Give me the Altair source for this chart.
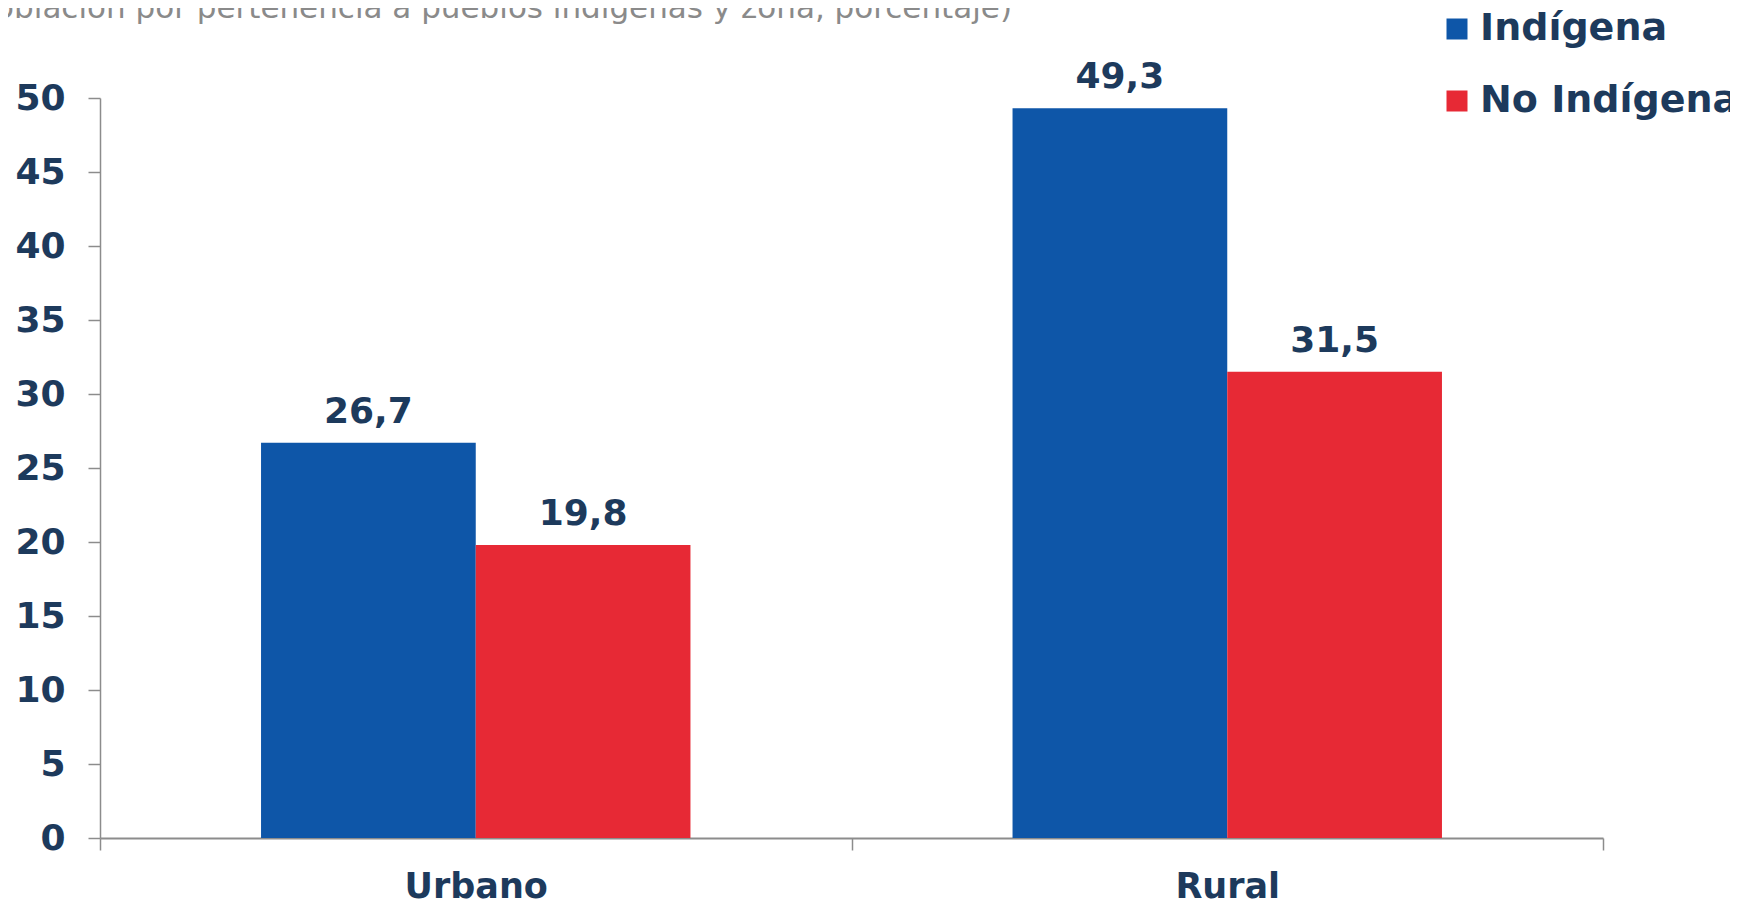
import altair as alt
import pandas as pd

# ---- data ----
zonas = ["Urbano", "Rural"]
grupos = ["Indígena", "No Indígena"]
indigena = [26.7, 49.3]
no_indigena = [19.8, 31.5]
y_ticks = [0, 5, 10, 15, 20, 25, 30, 35, 40, 45, 50]
colores = ["#0E56A8", "#E72935"]
titulo = "(Población por pertenencia a pueblos indígenas y zona, porcentaje)"

rows = []
for z, a, b in zip(zonas, indigena, no_indigena):
    rows.append({"zona": z, "grupo": grupos[0], "valor": a})
    rows.append({"zona": z, "grupo": grupos[1], "valor": b})
df = pd.DataFrame(rows)
title_df = pd.DataFrame({"t": [titulo]})

NAVY = "#1D3A5C"
GRAY = "#8C8C8C"
FONT = "DejaVu Sans"

base = alt.Chart(df).encode(
    x=alt.X(
        "zona:N",
        sort=zonas,
        scale=alt.Scale(paddingInner=0, paddingOuter=0),
        axis=alt.Axis(
            title=None, labelAngle=0, tickBand="extent",
            domainColor=GRAY, domainWidth=2, tickColor=GRAY, tickWidth=1.5,
            tickSize=12, labelFont=FONT, labelFontSize=35, labelFontWeight="bold",
            labelColor=NAVY, labelPadding=19,
        ),
    ),
    xOffset=alt.XOffset("grupo:N", sort=grupos,
                        scale=alt.Scale(paddingInner=0, paddingOuter=0.75)),
    y=alt.Y(
        "valor:Q",
        scale=alt.Scale(domain=[0, 50], nice=False),
        axis=alt.Axis(
            title=None, values=y_ticks, grid=False,
            domainColor=GRAY, domainWidth=1.5, tickColor=GRAY, tickWidth=1.5,
            tickSize=12, labelFont=FONT, labelFontSize=36, labelFontWeight="bold",
            labelColor=NAVY, labelPadding=23,
        ),
    ),
)

bars = base.mark_bar().encode(
    color=alt.Color(
        "grupo:N",
        sort=grupos,
        scale=alt.Scale(domain=grupos, range=colores),
        legend=alt.Legend(
            title=None, orient="none", legendX=1338, legendY=-88,
            direction="vertical", symbolType="square", symbolSize=441,
            symbolStrokeWidth=0, labelFont=FONT, labelFontSize=38,
            labelFontWeight="bold", labelColor=NAVY, rowPadding=34,
            labelOffset=4, padding=0, labelLimit=400,
        ),
    )
)

labels = base.transform_calculate(
    label="replace(format(datum.valor, '.1f'), '.', ',')"
).mark_text(
    dy=-20, baseline="alphabetic", font=FONT, fontSize=36,
    fontWeight="bold", color=NAVY,
).encode(text="label:N")

title_layer = alt.Chart(title_df).mark_text(
    align="right", baseline="alphabetic", font=FONT, fontSize=31,
    fontWeight="normal", color="#8A8A8A",
).encode(text="t:N", x=alt.value(912), y=alt.value(-80))

chart = alt.layer(bars, labels, title_layer).properties(
    width=1503,
    height=740,
    autosize=alt.AutoSizeParams(type="none"),
    padding={"left": 92, "top": 90, "right": 127, "bottom": 65},
).configure_view(stroke=None)

chart.save("out.html", embed_options={"renderer": "svg", "actions": False})
